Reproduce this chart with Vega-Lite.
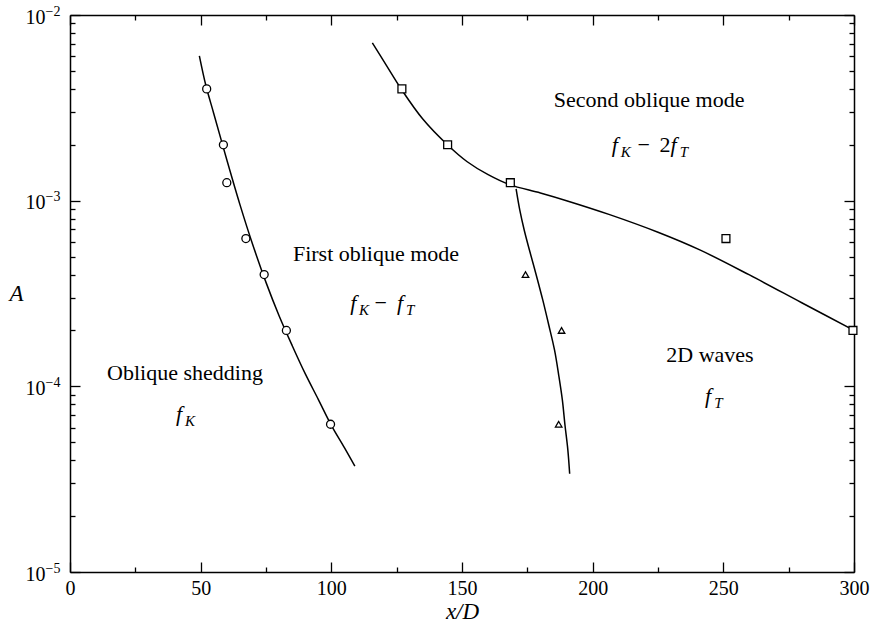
{
  "$schema": "https://vega.github.io/schema/vega-lite/v6.json",
  "width": 784,
  "height": 557,
  "autosize": {"type": "none"},
  "padding": {"left": 70, "top": 15, "right": 21, "bottom": 58},
  "background": "white",
  "config": {
    "view": {"stroke": null},
    "axis": {
      "grid": false,
      "domainColor": "black",
      "domainWidth": 1.5,
      "tickColor": "black",
      "tickWidth": 1.3,
      "labelFont": "Liberation Serif",
      "labelFontSize": 20,
      "labelColor": "black",
      "labelFlush": false,
      "labelOverlap": false,
      "titleFont": "Liberation Serif",
      "titleColor": "black",
      "titleFontWeight": "normal"
    }
  },
  "datasets": {
    "curves": [
      {"curve": "oblique", "x": 49.5, "A": 0.00603},
      {"curve": "oblique", "x": 52, "A": 0.00417},
      {"curve": "oblique", "x": 55, "A": 0.00295},
      {"curve": "oblique", "x": 60, "A": 0.00166},
      {"curve": "oblique", "x": 65, "A": 0.000955},
      {"curve": "oblique", "x": 70, "A": 0.000575},
      {"curve": "oblique", "x": 75, "A": 0.000363},
      {"curve": "oblique", "x": 80, "A": 0.00024},
      {"curve": "oblique", "x": 85, "A": 0.000166},
      {"curve": "oblique", "x": 90, "A": 0.000117},
      {"curve": "oblique", "x": 95, "A": 0.0000851},
      {"curve": "oblique", "x": 100, "A": 0.0000617},
      {"curve": "oblique", "x": 105, "A": 0.0000468},
      {"curve": "oblique", "x": 109, "A": 0.0000372},
      {"curve": "second", "x": 115.7, "A": 0.00708},
      {"curve": "second", "x": 121, "A": 0.00537},
      {"curve": "second", "x": 126.8, "A": 0.00398},
      {"curve": "second", "x": 135, "A": 0.00275},
      {"curve": "second", "x": 144.4, "A": 0.002},
      {"curve": "second", "x": 152, "A": 0.00162},
      {"curve": "second", "x": 160, "A": 0.00138},
      {"curve": "second", "x": 168.2, "A": 0.00122},
      {"curve": "second", "x": 180, "A": 0.0011},
      {"curve": "second", "x": 190, "A": 0.001},
      {"curve": "second", "x": 206.5, "A": 0.000841},
      {"curve": "second", "x": 225, "A": 0.000676},
      {"curve": "second", "x": 241, "A": 0.000543},
      {"curve": "second", "x": 260, "A": 0.000398},
      {"curve": "second", "x": 280, "A": 0.000282},
      {"curve": "second", "x": 300, "A": 0.0002},
      {"curve": "twod", "x": 170.7, "A": 0.001156},
      {"curve": "twod", "x": 172.1, "A": 0.000891},
      {"curve": "twod", "x": 173.8, "A": 0.000695},
      {"curve": "twod", "x": 175.8, "A": 0.000542},
      {"curve": "twod", "x": 178.4, "A": 0.000398},
      {"curve": "twod", "x": 180.9, "A": 0.000292},
      {"curve": "twod", "x": 183.2, "A": 0.000214},
      {"curve": "twod", "x": 185.4, "A": 0.000157},
      {"curve": "twod", "x": 187.0, "A": 0.000115},
      {"curve": "twod", "x": 188.4, "A": 0.0000845},
      {"curve": "twod", "x": 189.4, "A": 0.0000619},
      {"curve": "twod", "x": 190.5, "A": 0.0000455},
      {"curve": "twod", "x": 191.2, "A": 0.0000338}
    ],
    "circles": [
      {"x": 52.3, "A": 0.004},
      {"x": 58.7, "A": 0.002},
      {"x": 60, "A": 0.00125},
      {"x": 67.3, "A": 0.000625},
      {"x": 74.3, "A": 0.0004},
      {"x": 82.8, "A": 0.0002},
      {"x": 99.7, "A": 0.0000625}
    ],
    "squares": [
      {"x": 127, "A": 0.004},
      {"x": 144.5, "A": 0.002},
      {"x": 168.5, "A": 0.00125},
      {"x": 251, "A": 0.000625},
      {"x": 299.6, "A": 0.0002}
    ],
    "triangles": [
      {"x": 174.3, "A": 0.0004},
      {"x": 188.1, "A": 0.0002},
      {"x": 187, "A": 0.0000625}
    ],
    "regions": [
      {"text": "Oblique shedding", "x": 44.0, "A": 0.000118},
      {"text": "First oblique mode", "x": 117.1, "A": 0.000516},
      {"text": "Second oblique mode", "x": 221.6, "A": 0.00348},
      {"text": "2D waves", "x": 244.9, "A": 0.000148}
    ],
    "operators": [
      {"text": "−", "x": 116.5, "A": 0.000281},
      {"text": "−", "x": 217.2, "A": 0.002},
      {"text": "2", "x": 225.6, "A": 0.002}
    ],
    "symbols": [
      {"text": "f", "x": 40.6, "A": 0.000071},
      {"text": "f", "x": 107.2, "A": 0.000281},
      {"text": "f", "x": 125.1, "A": 0.000281},
      {"text": "f", "x": 207.3, "A": 0.002},
      {"text": "f", "x": 229.8, "A": 0.002},
      {"text": "f", "x": 243.0, "A": 0.0000887}
    ],
    "subscripts": [
      {"text": "K", "x": 44.0, "A": 0.000071},
      {"text": "K", "x": 110.6, "A": 0.000281},
      {"text": "T", "x": 128.6, "A": 0.000281},
      {"text": "K", "x": 210.7, "A": 0.002},
      {"text": "T", "x": 233.3, "A": 0.002},
      {"text": "T", "x": 246.5, "A": 0.0000887}
    ]
  },
  "layer": [
    {
      "data": {"name": "curves"},
      "mark": {"type": "line", "interpolate": "catmull-rom", "color": "black", "strokeWidth": 1.5},
      "encoding": {
        "x": {
          "field": "x", "type": "quantitative",
          "scale": {"domain": [0, 300], "nice": false, "zero": false},
          "axis": {
            "orient": "bottom",
            "values": [0, 50, 100, 150, 200, 250, 300],
            "tickSize": -10,
            "labelPadding": 16,
            "title": "x/D",
            "titleFontStyle": "italic",
            "titleFontSize": 23,
            "titlePadding": 2
          }
        },
        "y": {
          "field": "A", "type": "quantitative",
          "scale": {"type": "log", "domain": [0.00001, 0.01], "nice": false},
          "axis": {
            "orient": "left",
            "values": [0.00001, 0.0001, 0.001, 0.01],
            "tickSize": -10,
            "labelPadding": 35,
            "labelOffset": 2,
            "labelExpr": "'10'",
            "title": "A",
            "titleAngle": 0,
            "titleX": -54,
            "titleY": 278.5,
            "titleAlign": "center",
            "titleBaseline": "middle",
            "titleFontStyle": "italic",
            "titleFontSize": 23
          }
        },
        "detail": {"field": "curve"}
      }
    },
    {
      "data": {"name": "circles"},
      "mark": {"type": "point", "shape": "circle", "size": 64, "filled": true, "fill": "white", "stroke": "black", "strokeWidth": 1.3, "opacity": 1},
      "encoding": {
        "x": {
          "field": "x", "type": "quantitative",
          "scale": {"domain": [0, 300], "nice": false, "zero": false},
          "axis": {"orient": "bottom", "values": [25, 75, 125, 175, 225, 275], "tickSize": -5, "labels": false, "domain": false, "title": null}
        },
        "y": {
          "field": "A", "type": "quantitative",
          "scale": {"type": "log", "domain": [0.00001, 0.01], "nice": false},
          "axis": {
            "orient": "left",
            "values": [0.00002, 0.00003, 0.00004, 0.00005, 0.00006, 0.00007, 0.00008, 0.00009, 0.0002, 0.0003, 0.0004, 0.0005, 0.0006, 0.0007, 0.0008, 0.0009, 0.002, 0.003, 0.004, 0.005, 0.006, 0.007, 0.008, 0.009],
            "tickSize": -5, "labels": false, "domain": false, "title": null
          }
        }
      }
    },
    {
      "data": {"name": "squares"},
      "mark": {"type": "point", "shape": "square", "size": 62, "filled": true, "fill": "white", "stroke": "black", "strokeWidth": 1.3, "opacity": 1},
      "encoding": {
        "x": {
          "field": "x", "type": "quantitative",
          "scale": {"domain": [0, 300], "nice": false, "zero": false},
          "axis": {"orient": "top", "values": [0, 50, 100, 150, 200, 250, 300], "tickSize": -10, "labels": false, "title": null}
        },
        "y": {
          "field": "A", "type": "quantitative",
          "scale": {"type": "log", "domain": [0.00001, 0.01], "nice": false},
          "axis": {"orient": "right", "values": [0.00001, 0.0001, 0.001, 0.01], "tickSize": -10, "labels": false, "title": null}
        }
      }
    },
    {
      "data": {"name": "triangles"},
      "mark": {"type": "point", "shape": "triangle-up", "size": 42, "filled": true, "fill": "white", "stroke": "black", "strokeWidth": 1.3, "opacity": 1},
      "encoding": {
        "x": {
          "field": "x", "type": "quantitative",
          "scale": {"domain": [0, 300], "nice": false, "zero": false},
          "axis": {"orient": "top", "values": [25, 75, 125, 175, 225, 275], "tickSize": -5, "labels": false, "domain": false, "title": null}
        },
        "y": {
          "field": "A", "type": "quantitative",
          "scale": {"type": "log", "domain": [0.00001, 0.01], "nice": false},
          "axis": {
            "orient": "right",
            "values": [0.00002, 0.00003, 0.00004, 0.00005, 0.00006, 0.00007, 0.00008, 0.00009, 0.0002, 0.0003, 0.0004, 0.0005, 0.0006, 0.0007, 0.0008, 0.0009, 0.002, 0.003, 0.004, 0.005, 0.006, 0.007, 0.008, 0.009],
            "tickSize": -5, "labels": false, "domain": false, "title": null
          }
        }
      }
    },
    {
      "data": {"name": "regions"},
      "mark": {"type": "text", "font": "Liberation Serif", "fontSize": 22, "align": "center", "baseline": "middle", "color": "black"},
      "encoding": {
        "x": {"field": "x", "type": "quantitative", "axis": null},
        "y": {
          "field": "A", "type": "quantitative", "scale": {"type": "log"},
          "axis": {
            "orient": "left",
            "values": [0.00001, 0.0001, 0.001, 0.01],
            "tickSize": -10,
            "tickOpacity": 0,
            "domain": false,
            "labelAlign": "left",
            "labelPadding": 35,
            "labelOffset": -4,
            "labelFontSize": 14,
            "labelExpr": "datum.value > 0.005 ? '−2' : datum.value > 0.0005 ? '−3' : datum.value > 0.00005 ? '−4' : '−5'",
            "title": null
          }
        },
        "text": {"field": "text"}
      }
    },
    {
      "data": {"name": "operators"},
      "mark": {"type": "text", "font": "Liberation Serif", "fontSize": 22, "align": "left", "baseline": "middle", "color": "black"},
      "encoding": {
        "x": {"field": "x", "type": "quantitative", "axis": null},
        "y": {"field": "A", "type": "quantitative", "scale": {"type": "log"}, "axis": null},
        "text": {"field": "text"}
      }
    },
    {
      "data": {"name": "symbols"},
      "mark": {"type": "text", "font": "Liberation Serif", "fontSize": 22, "fontStyle": "italic", "align": "left", "baseline": "middle", "color": "black"},
      "encoding": {
        "x": {"field": "x", "type": "quantitative", "axis": null},
        "y": {"field": "A", "type": "quantitative", "scale": {"type": "log"}, "axis": null},
        "text": {"field": "text"}
      }
    },
    {
      "data": {"name": "subscripts"},
      "mark": {"type": "text", "font": "Liberation Serif", "fontSize": 15, "fontStyle": "italic", "align": "left", "baseline": "middle", "dy": 7, "color": "black"},
      "encoding": {
        "x": {"field": "x", "type": "quantitative", "axis": null},
        "y": {"field": "A", "type": "quantitative", "scale": {"type": "log"}, "axis": null},
        "text": {"field": "text"}
      }
    }
  ],
  "resolve": {"axis": {"x": "independent", "y": "independent"}}
}
